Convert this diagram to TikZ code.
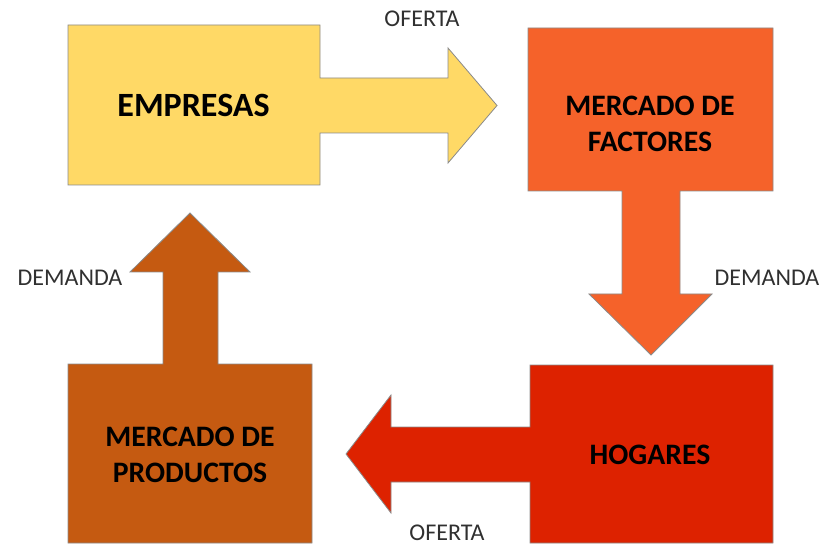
\documentclass[tikz,border=0pt]{standalone}
\usepackage{fontspec}
\setmainfont{Carlito}
\definecolor{cyellow}{HTML}{FFD966}
\definecolor{corange}{HTML}{F5622A}
\definecolor{cred}{HTML}{DD2200}
\definecolor{cbrown}{HTML}{C55A11}
\definecolor{cedge}{HTML}{8A8A8A}
\definecolor{ctext}{HTML}{303030}
\begin{document}
\begin{tikzpicture}[x=1pt,y=-1pt,
  blockshape/.style={draw=cedge,line width=0.8pt,line join=miter},
  biglabel/.style={font=\fontsize{29.7}{36}\selectfont\bfseries,text=black,align=center,inner sep=0pt},
  smalllabel/.style={font=\fontsize{24}{29}\selectfont,text=ctext,inner sep=0pt}]
\useasboundingbox (0,0) rectangle (827,545);
% EMPRESAS with arrow to the right
\filldraw[blockshape,fill=cyellow] (68,25) -- (320,25) -- (320,78) -- (448,78) -- (448,48)
  -- (497,105.5) -- (448,163) -- (448,133) -- (320,133) -- (320,185) -- (68,185) -- cycle;
% MERCADO DE FACTORES with arrow down
\filldraw[blockshape,fill=corange] (528,28) -- (773,28) -- (773,191) -- (680,191) -- (680,294)
  -- (712,294) -- (651,355) -- (589,294) -- (622,294) -- (622,191) -- (528,191) -- cycle;
% HOGARES with arrow to the left
\filldraw[blockshape,fill=cred] (530,365) -- (773,365) -- (773,543) -- (530,543) -- (530,482)
  -- (391,482) -- (391,513) -- (346,454) -- (391,395) -- (391,427) -- (530,427) -- cycle;
% MERCADO DE PRODUCTOS with arrow up
\filldraw[blockshape,fill=cbrown] (68,364) -- (163,364) -- (163,272) -- (130,272) -- (190,213)
  -- (250,272) -- (218,272) -- (218,364) -- (312,364) -- (312,543) -- (68,543) -- cycle;
% labels
\node[biglabel,font=\fontsize{34}{41}\selectfont\bfseries] (empresas) at (193.5,105) {EMPRESAS};
\node[biglabel] (factores) at (650,124) {MERCADO DE\\FACTORES};
\node[biglabel] (hogares) at (650,455) {HOGARES};
\node[biglabel] (productos) at (190,454.5) {MERCADO DE\\PRODUCTOS};
\node[smalllabel] (oferta1) at (422,19) {OFERTA};
\node[smalllabel] (demanda1) at (767,278) {DEMANDA};
\node[smalllabel] (demanda2) at (70,278) {DEMANDA};
\node[smalllabel] (oferta2) at (447,533) {OFERTA};
\end{tikzpicture}
\end{document}
